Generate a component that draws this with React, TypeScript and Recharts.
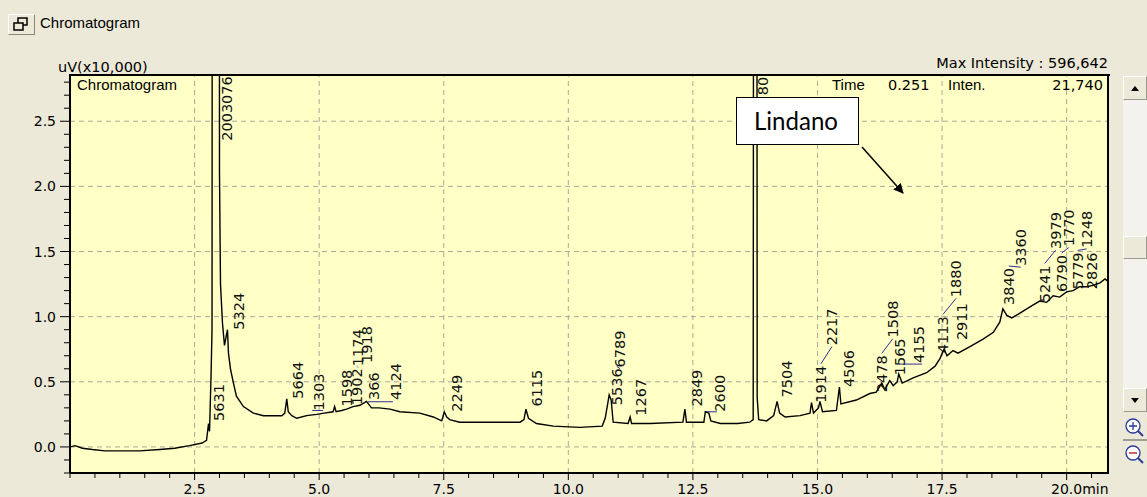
import React from "react";
import {
  ComposedChart,
  Line,
  Scatter,
  XAxis,
  YAxis,
  CartesianGrid,
  ReferenceLine,
} from "recharts";

// retention time (min), signal (uV x10,000)
const trace: [number, number][] = [
  [0.0, 0.0], [0.1, 0.01], [0.25, -0.01], [0.45, -0.02], [0.7, -0.03], [1.0, -0.03],
  [1.4, -0.03], [1.8, -0.02], [2.1, -0.01], [2.4, 0.01], [2.65, 0.03], [2.74, 0.05],
  [2.78, 0.18], [2.8, 0.12], [2.83, 0.54], [2.85, 0.9], [2.93, 59.66], [3.0, 2.1],
  [3.02, 1.25], [3.06, 0.95], [3.1, 0.78], [3.16, 0.9], [3.18, 0.72], [3.22, 0.6],
  [3.28, 0.49], [3.34, 0.39], [3.48, 0.31], [3.68, 0.26], [3.88, 0.24], [4.25, 0.24],
  [4.31, 0.26], [4.35, 0.37], [4.38, 0.27], [4.45, 0.24], [4.55, 0.22], [4.75, 0.24],
  [4.95, 0.25], [5.1, 0.26], [5.28, 0.27], [5.31, 0.31], [5.34, 0.27], [5.45, 0.28],
  [5.55, 0.29], [5.68, 0.31], [5.82, 0.32], [5.95, 0.35], [6.05, 0.3], [6.2, 0.3],
  [6.42, 0.29], [6.62, 0.27], [7.02, 0.26], [7.29, 0.23], [7.46, 0.2], [7.51, 0.27],
  [7.56, 0.23], [7.62, 0.21], [7.82, 0.19], [8.43, 0.19], [9.03, 0.19], [9.11, 0.21],
  [9.15, 0.29], [9.2, 0.22], [9.36, 0.18], [9.7, 0.16], [10.23, 0.15], [10.68, 0.16],
  [10.74, 0.22], [10.79, 0.33], [10.82, 0.4], [10.86, 0.36], [10.9, 0.19], [11.2, 0.18],
  [11.24, 0.23], [11.27, 0.18], [11.64, 0.18], [12.3, 0.19], [12.34, 0.29], [12.37, 0.19],
  [12.72, 0.19], [12.75, 0.27], [12.82, 0.26], [12.86, 0.2], [13.05, 0.18], [13.4, 0.18],
  [13.64, 0.19], [13.71, 0.21], [13.755, 25.0], [13.79, 0.38], [13.82, 0.21], [13.98, 0.2],
  [14.12, 0.24], [14.19, 0.35], [14.24, 0.26], [14.35, 0.23], [14.65, 0.24], [14.85, 0.26],
  [14.88, 0.34], [14.92, 0.26], [15.02, 0.3], [15.05, 0.35], [15.1, 0.27], [15.38, 0.28],
  [15.44, 0.46], [15.47, 0.33], [15.78, 0.36], [16.05, 0.41], [16.18, 0.42], [16.29, 0.49],
  [16.35, 0.44], [16.45, 0.51], [16.52, 0.47], [16.6, 0.5], [16.63, 0.56], [16.7, 0.49],
  [16.92, 0.53], [17.19, 0.57], [17.36, 0.62], [17.46, 0.68], [17.54, 0.75], [17.6, 0.7],
  [17.72, 0.74], [17.82, 0.72], [18.06, 0.77], [18.33, 0.83], [18.53, 0.88], [18.66, 0.96],
  [18.72, 1.06], [18.8, 1.01], [18.9, 0.99], [19.03, 1.02], [19.2, 1.06], [19.33, 1.09],
  [19.46, 1.12], [19.6, 1.11], [19.73, 1.16], [19.86, 1.15], [20.0, 1.19], [20.13, 1.2],
  [20.26, 1.23], [20.4, 1.23], [20.53, 1.24], [20.67, 1.26], [20.77, 1.29], [20.83, 1.27],
];

// peak annotations: time, level where the text starts, area text
const peakLabels = [
  { t: 2.99, v: 0.2, text: "5631" },
  { t: 3.15, v: 2.35, text: "2003076" },
  { t: 3.39, v: 0.9, text: "5324" },
  { t: 4.57, v: 0.37, text: "5664" },
  { t: 5.0, v: 0.28, text: "1303" },
  { t: 5.56, v: 0.31, text: "1598" },
  { t: 5.76, v: 0.32, text: "1902" },
  { t: 5.78, v: 0.62, text: "1174" },
  { t: 5.97, v: 0.645, text: "1918" },
  { t: 6.1, v: 0.36, text: "366" },
  { t: 6.54, v: 0.36, text: "4124" },
  { t: 7.76, v: 0.27, text: "2249" },
  { t: 9.38, v: 0.31, text: "6115" },
  { t: 10.97, v: 0.32, text: "5536" },
  { t: 11.04, v: 0.61, text: "6789" },
  { t: 11.46, v: 0.24, text: "1267" },
  { t: 12.59, v: 0.31, text: "2849" },
  { t: 13.04, v: 0.27, text: "2600" },
  { t: 13.9, v: 2.7, text: "80" },
  { t: 14.39, v: 0.38, text: "7504" },
  { t: 15.07, v: 0.34, text: "1914" },
  { t: 15.29, v: 0.78, text: "2217" },
  { t: 15.63, v: 0.46, text: "4506" },
  { t: 16.29, v: 0.42, text: "2478" },
  { t: 16.51, v: 0.84, text: "1508" },
  { t: 16.65, v: 0.55, text: "1565" },
  { t: 17.03, v: 0.645, text: "4155" },
  { t: 17.52, v: 0.72, text: "4113" },
  { t: 17.78, v: 1.15, text: "1880" },
  { t: 17.9, v: 0.82, text: "2911" },
  { t: 18.84, v: 1.09, text: "3840" },
  { t: 19.08, v: 1.39, text: "3360" },
  { t: 19.56, v: 1.11, text: "5241" },
  { t: 19.78, v: 1.52, text: "3979" },
  { t: 19.9, v: 1.19, text: "6790" },
  { t: 20.04, v: 1.54, text: "1770" },
  { t: 20.22, v: 1.21, text: "5779" },
  { t: 20.4, v: 1.53, text: "1248" },
  { t: 20.51, v: 1.21, text: "2826" },
];

// leader lines: lower label -> stacked label above it
const leaders: [string, string][] = [
  ["1902", "1174"],
  ["5536", "6789"],
  ["1914", "2217"],
  ["2478", "1508"],
  ["4113", "1880"],
  ["3840", "3360"],
  ["5241", "3979"],
  ["6790", "1770"],
  ["5779", "1248"],
];

// integration baselines: start, end, level
const baselines = [
  { t0: 4.86, t1: 5.08, v: 0.28 },
  { t0: 5.98, t1: 6.48, v: 0.347 },
  { t0: 12.74, t1: 12.98, v: 0.27 },
  { t0: 16.64, t1: 17.1, v: 0.636 },
];

const xLabels = ["2.5", "5.0", "7.5", "10.0", "12.5", "15.0", "17.5", "20.0"];
const yLabels = ["0.0", "0.5", "1.0", "1.5", "2.0", "2.5"];
const gridX = [2.5, 5, 7.5, 10, 12.5, 15, 17.5, 20];
const gridY = [0, 0.5, 1, 1.5, 2, 2.5];

const X_MAX = 20.83;
const Y_MIN = -0.2;
const Y_MAX = 2.855;
const PLOT_H = 398;
const LABEL_FONT = 14.5;
const NUM_FONT = "'DejaVu Sans', sans-serif";
const WORD_FONT = "'Liberation Sans', Arial, sans-serif";
const BLUE = "#2e2e9c";

const xTicks = Array.from({ length: 42 }, (_, i) => i * 0.5);
const yTicks = Array.from({ length: 31 }, (_, i) => Math.round(i - 2) / 10);

const traceData = trace.map(([t, v]) => ({ t, v }));

function YTick(props: any) {
  const { x, y, payload } = props;
  const v = payload.value;
  const major = Math.abs(v * 2 - Math.round(v * 2)) < 1e-6;
  const label = v.toFixed(1);
  return (
    <g>
      <line x1={x - (major ? 10 : 6)} x2={x} y1={y} y2={y} stroke="#000" />
      {major && yLabels.includes(label) && (
        <text x={x - 14} y={y} textAnchor="end" dominantBaseline="central"
          fontFamily={NUM_FONT} fontSize={14} fill="#000">
          {label}
        </text>
      )}
    </g>
  );
}

function XTick(props: any) {
  const { x, y, payload } = props;
  const v = payload.value;
  const major = v > 0 && Math.abs(v / 2.5 - Math.round(v / 2.5)) < 1e-6;
  const label = v.toFixed(1);
  const last = label === xLabels[xLabels.length - 1];
  return (
    <g>
      <line x1={x} x2={x} y1={y} y2={y + (major ? 7 : 5)} stroke="#000" />
      {major && xLabels.includes(label) && (
        <text x={x} y={y + 21} textAnchor="middle" fontFamily={NUM_FONT} fontSize={14} fill="#000">
          {label}
        </text>
      )}
      {major && last && (
        <text x={x + 15.6} y={y + 21} textAnchor="start" fontFamily={NUM_FONT} fontSize={14} fill="#000">
          min
        </text>
      )}
    </g>
  );
}

const renderPeakLabel = (p: any) => {
  const { cx, cy, payload } = p;
  return (
    <text x={cx} y={cy} transform={`rotate(-90 ${cx} ${cy})`} dominantBaseline="central"
      fontFamily={NUM_FONT} fontSize={LABEL_FONT} fill="#111">
      {payload.text}
    </text>
  );
};

const pxPerUnit = PLOT_H / (Y_MAX - Y_MIN);
const findLabel = (s: string) => peakLabels.find((l) => l.text === s)!;

const txt = (extra: React.CSSProperties): React.CSSProperties => ({
  position: "absolute",
  lineHeight: "18px",
  whiteSpace: "nowrap",
  color: "#000",
  ...extra,
});

export default function App() {
  return (
    <div style={{ position: "relative", width: 1147, height: 497, background: "#ECE9D8", overflow: "hidden" }}>
      <style>{`body{margin:0}`}</style>

      <ComposedChart width={1147} height={497} margin={{ top: 75, right: 39, bottom: 0, left: 0 }}
        style={{ position: "absolute", left: 0, top: 0 }}>
        <CartesianGrid fill="#FFFFC6" horizontal={false} vertical={false} />
        <XAxis type="number" dataKey="t" domain={[0, X_MAX]} ticks={xTicks} interval={0} height={24}
          tickSize={0} tickMargin={0} tickLine={false} tick={<XTick />} allowDataOverflow
          axisLine={{ stroke: "#000", strokeWidth: 2 }} />
        <YAxis type="number" dataKey="v" domain={[Y_MIN, Y_MAX]} ticks={yTicks} interval={0} width={70}
          tickSize={0} tickMargin={0} tickLine={false} tick={<YTick />} allowDataOverflow
          axisLine={{ stroke: "#000", strokeWidth: 2 }} />
        {gridX.map((t) => (
          <ReferenceLine key={`gx${t}`} x={t} stroke="#a9a89c" strokeDasharray="5 4" />
        ))}
        {gridY.map((v) => (
          <ReferenceLine key={`gy${v}`} y={v} stroke="#a9a89c" strokeDasharray="5 4" />
        ))}
        {baselines.map((b, i) => (
          <ReferenceLine key={`b${i}`} segment={[{ x: b.t0, y: b.v }, { x: b.t1, y: b.v }]} stroke={BLUE} />
        ))}
        {leaders.map(([lo, hi]) => {
          const a = findLabel(lo);
          const b = findLabel(hi);
          const top = a.v + (a.text.length * 0.636 * LABEL_FONT + 2) / pxPerUnit;
          return (
            <ReferenceLine key={`l${lo}`} segment={[{ x: a.t, y: top }, { x: b.t, y: b.v - 0.01 }]} stroke={BLUE} />
          );
        })}
        <Line data={traceData} dataKey="v" type="linear" stroke="#000" strokeWidth={1.4} dot={false}
          isAnimationActive={false} />
        <Scatter data={peakLabels} shape={renderPeakLabel} isAnimationActive={false} />
      </ComposedChart>

      {/* plot frame top and right */}
      <div style={{ position: "absolute", left: 69, top: 74, width: 1041, height: 2, background: "#000" }} />
      <div style={{ position: "absolute", left: 1107, top: 74, width: 2, height: 400, background: "#000" }} />

      {/* window header */}
      <div style={{
        position: "absolute", left: 8, top: 14, width: 25, height: 19, background: "#ECE9D8",
        borderStyle: "solid", borderWidth: 1, borderColor: "#fff #8a8a80 #8a8a80 #fff",
      }}>
        <svg width={25} height={19}>
          <rect x={9} y={3} width={9} height={7} fill="none" stroke="#000" strokeWidth={1.5} />
          <rect x={5} y={8} width={9} height={7} fill="#ECE9D8" stroke="#000" strokeWidth={1.5} />
        </svg>
      </div>
      <div style={txt({ left: 40, top: 14, fontFamily: WORD_FONT, fontSize: 15 })}>Chromatogram</div>

      <div style={txt({ left: 58, top: 58, fontFamily: NUM_FONT, fontSize: 14.5 })}>uV(x10,000)</div>
      <div style={txt({ right: 39, top: 54, fontFamily: NUM_FONT, fontSize: 14.5 })}>Max Intensity : 596,642</div>

      <div style={txt({ left: 77, top: 76, fontFamily: WORD_FONT, fontSize: 15 })}>Chromatogram</div>
      <div style={txt({ left: 832, top: 76, fontFamily: WORD_FONT, fontSize: 15 })}>Time</div>
      <div style={txt({ left: 888, top: 76, fontFamily: NUM_FONT, fontSize: 14.5 })}>0.251</div>
      <div style={txt({ left: 948, top: 76, fontFamily: WORD_FONT, fontSize: 15 })}>Inten.</div>
      <div style={txt({ right: 44, top: 76, fontFamily: NUM_FONT, fontSize: 14.5 })}>21,740</div>

      {/* Lindano callout */}
      <div style={{
        position: "absolute", left: 736, top: 97, width: 121, height: 46, background: "#fff",
        border: "1px solid #000",
      }}>
        <svg width={121} height={46}>
          <text x={17} y={32} fontFamily="Lato, 'Open Sans', sans-serif" fontSize={25} textLength={84}
            lengthAdjust="spacingAndGlyphs" fill="#000">Lindano</text>
        </svg>
      </div>
      <svg width={1147} height={497} style={{ position: "absolute", left: 0, top: 0, pointerEvents: "none" }}>
        <defs>
          <marker id="ah" markerWidth="10" markerHeight="10" refX="9" refY="5" orient="auto" markerUnits="userSpaceOnUse">
            <path d="M0,0 L10,5 L0,10 z" fill="#000" />
          </marker>
        </defs>
        <line x1={862} y1={147} x2={903} y2={193} stroke="#000" strokeWidth={1.5} markerEnd="url(#ah)" />
      </svg>

      {/* scrollbar */}
      <div style={{ position: "absolute", left: 1123, top: 100, width: 24, height: 288, background: "#F3F2EC" }} />
      <div style={{
        position: "absolute", left: 1123, top: 76, width: 22, height: 22, background: "#ECE9D8",
        borderStyle: "solid", borderWidth: 1, borderColor: "#fff #9a9a90 #9a9a90 #fff",
      }}>
        <svg width={22} height={22}><path d="M7,14 L15,14 L11,9 z" fill="#000" /></svg>
      </div>
      <div style={{
        position: "absolute", left: 1123, top: 236, width: 22, height: 21, background: "#ECE9D8",
        borderStyle: "solid", borderWidth: 1, borderColor: "#fff #9a9a90 #9a9a90 #fff",
      }} />
      <div style={{
        position: "absolute", left: 1123, top: 388, width: 22, height: 22, background: "#ECE9D8",
        borderStyle: "solid", borderWidth: 1, borderColor: "#fff #9a9a90 #9a9a90 #fff",
      }}>
        <svg width={22} height={22}><path d="M7,9 L15,9 L11,14 z" fill="#000" /></svg>
      </div>
      <svg width={24} height={58} style={{ position: "absolute", left: 1123, top: 414 }}>
        <circle cx={10} cy={12} r={7} fill="#fff" stroke="#2a3a9a" strokeWidth={1.3} />
        <path d="M6,12 L14,12 M10,8 L10,16" stroke="#2a3a9a" strokeWidth={1.3} />
        <path d="M15,17 L20,22" stroke="#2a3a9a" strokeWidth={2} />
        <line x1={0} y1={26} x2={24} y2={26} stroke="#555" />
        <circle cx={10} cy={39} r={7} fill="#fff" stroke="#2a3a9a" strokeWidth={1.3} />
        <path d="M6,39 L14,39" stroke="#c03030" strokeWidth={1.5} />
        <path d="M15,44 L20,49" stroke="#2a3a9a" strokeWidth={2} />
      </svg>
    </div>
  );
}
